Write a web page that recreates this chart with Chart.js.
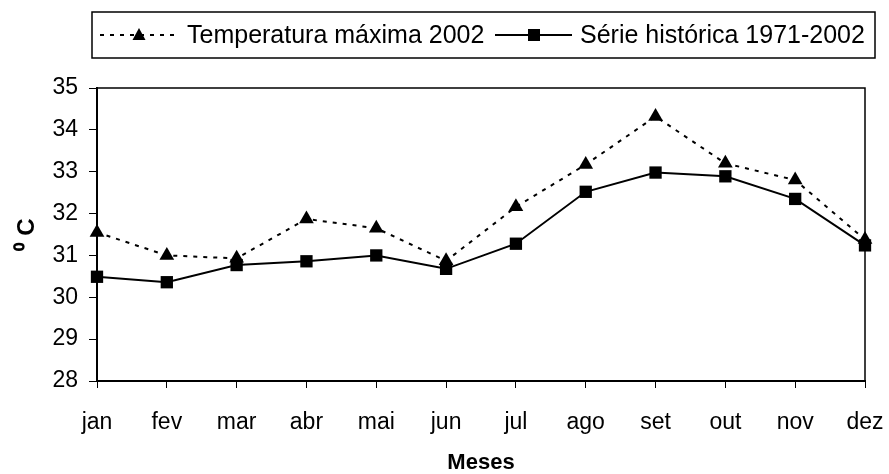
<!DOCTYPE html>
<html>
<head>
<meta charset="utf-8">
<script src="https://cdn.jsdelivr.net/npm/chart.js@4.4.1/dist/chart.umd.min.js"></script>
<style>
  body { margin: 0; background: #fff; }
  #wrap { width: 889px; height: 474px; position: relative; }
</style>
</head>
<body>
<div id="wrap"><canvas id="myChart"></canvas></div>
<script>
const meses = ['jan', 'fev', 'mar', 'abr', 'mai', 'jun', 'jul', 'ago', 'set', 'out', 'nov', 'dez'];
const tempMax2002 = [31.55, 31.0, 30.93, 31.87, 31.65, 30.87, 32.16, 33.17, 34.32, 33.2, 32.8, 31.38];
const serieHist = [30.49, 30.36, 30.77, 30.86, 31.0, 30.68, 31.28, 32.52, 32.98, 32.89, 32.35, 31.24];
const legendLabels = ['Temperatura máxima 2002', 'Série histórica 1971-2002'];

const FONT = "'Liberation Sans', Arial, sans-serif";

// legend box drawn by hand (line + marker samples like the original)
const legendBox = {
    id: 'legendBox',
    afterDraw(chart) {
        const ctx = chart.ctx;
        ctx.save();
        ctx.strokeStyle = '#000';
        ctx.lineWidth = 1.5;
        ctx.strokeRect(92, 12, 783, 46);

        const cy = 35;
        // dotted sample + triangle
        ctx.lineWidth = 2;
        ctx.setLineDash([4, 6]);
        ctx.beginPath();
        ctx.moveTo(100, cy);
        ctx.lineTo(178, cy);
        ctx.stroke();
        ctx.setLineDash([]);
        ctx.fillStyle = '#000';
        ctx.beginPath();
        ctx.moveTo(139, cy - 7);
        ctx.lineTo(145.5, cy + 5);
        ctx.lineTo(132.5, cy + 5);
        ctx.closePath();
        ctx.fill();

        // solid sample + square
        ctx.beginPath();
        ctx.moveTo(495, cy);
        ctx.lineTo(572, cy);
        ctx.stroke();
        ctx.fillRect(528, cy - 6, 12, 12);

        ctx.font = '25px ' + FONT;
        ctx.textBaseline = 'alphabetic';
        ctx.fillText(legendLabels[0], 187, 43);
        ctx.fillText(legendLabels[1], 580, 43);

        // plot frame (top and right edges)
        const a = chart.chartArea;
        ctx.lineWidth = 1.5;
        ctx.beginPath();
        ctx.moveTo(a.left, a.top);
        ctx.lineTo(a.right, a.top);
        ctx.lineTo(a.right, a.bottom);
        ctx.stroke();
        ctx.restore();
    }
};

new Chart(document.querySelector('#myChart'), {
    type: 'line',
    data: {
        labels: meses,
        datasets: [{
            label: legendLabels[0],
            data: tempMax2002,
            borderColor: '#000',
            backgroundColor: '#000',
            borderWidth: 2,
            borderDash: [4, 6],
            pointStyle: 'triangle',
            pointRadius: 8.5,
            pointBorderWidth: 0,
            tension: 0,
            clip: false,
            order: 1
        }, {
            label: legendLabels[1],
            data: serieHist,
            borderColor: '#000',
            backgroundColor: '#000',
            borderWidth: 2,
            pointStyle: 'rect',
            pointRadius: 8.7,
            pointBorderWidth: 0,
            tension: 0,
            clip: false,
            order: 0
        }]
    },
    options: {
        responsive: true,
        maintainAspectRatio: false,
        animation: false,
        layout: { padding: { left: 0, right: 24, top: 88, bottom: 0 } },
        plugins: {
            legend: { display: false },
            tooltip: { enabled: false }
        },
        scales: {
            x: {
                offset: false,
                grid: { drawOnChartArea: false, drawTicks: true, tickLength: 7, color: '#000', offset: false },
                border: { display: true, color: '#000', width: 2 },
                ticks: { color: '#000', font: { family: FONT, size: 23 }, padding: 21, maxRotation: 0 },
                title: { display: true, text: 'Meses', color: '#000', font: { family: FONT, size: 22, weight: 'bold' }, padding: { top: 0, bottom: -2 } },
                afterFit(scale) {
                    scale.height = 93;
                    scale.paddingLeft = 0;
                    scale.paddingRight = 0;
                }
            },
            y: {
                min: 28,
                max: 35,
                ticks: { stepSize: 1, color: '#000', font: { family: FONT, size: 23 }, padding: 11 },
                grid: { drawOnChartArea: false, drawTicks: true, tickLength: 8, color: '#000' },
                border: { display: true, color: '#000', width: 2 },
                title: { display: true, text: '⁰ C', color: '#000', font: { family: FONT, size: 24, weight: 'bold' }, padding: { top: 13, bottom: 0 } },
                afterFit(scale) {
                    scale.width = 97;
                    scale.paddingTop = 0;
                    scale.paddingBottom = 0;
                }
            }
        }
    },
    plugins: [legendBox]
});
</script>
</body>
</html>
